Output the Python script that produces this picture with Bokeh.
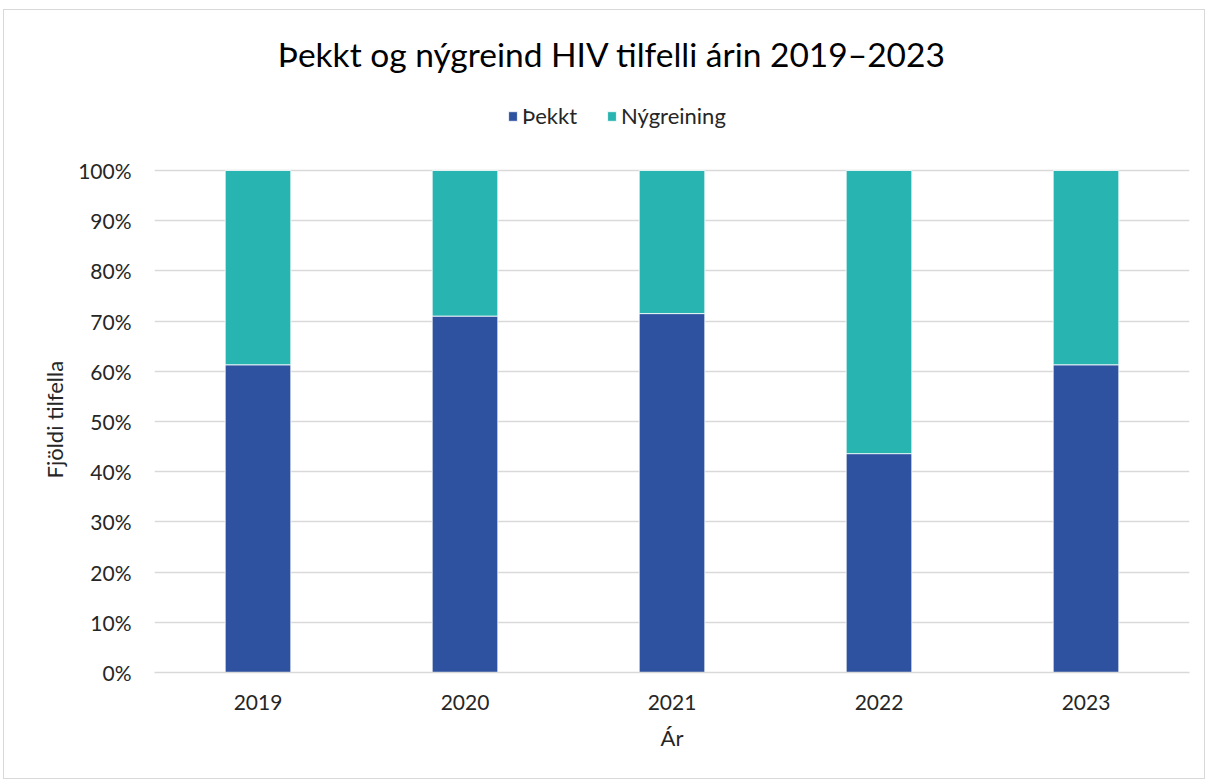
from bokeh.plotting import figure
from bokeh.models import Legend, LegendItem, PrintfTickFormatter, FixedTicker, Range1d, Label, Title
from bokeh.embed import file_html
from bokeh.resources import INLINE

years = ["2019", "2020", "2021", "2022", "2023"]
thekkt = [61.3, 71.0, 71.5, 43.6, 61.3]
nygreining = [38.7, 29.0, 28.5, 56.4, 38.7]
series = ["Þekkt", "Nýgreining"]
colors = ["#2F52A0", "#28B4B1"]
y_ticks = [0, 10, 20, 30, 40, 50, 60, 70, 80, 90, 100]
title_text = "Þekkt og nýgreind HIV tilfelli árin 2019–2023"
y_label = "Fjöldi tilfella"
x_label = "Ár"

FONT = "Lato"
TXT = "#262626"

# frame extends above 100% so the title and legend (drawn inside it) are not clipped
p = figure(x_range=years, y_range=Range1d(0, 130.88), width=1202, height=770,
           output_backend="svg", toolbar_location=None, title=None,
           min_border_left=150, min_border_right=17, min_border_top=5, min_border_bottom=108)

data = {"years": years, "Þekkt": thekkt, "Nýgreining": nygreining}
rs = p.vbar_stack(series, x="years", width=0.317, color=colors, source=data,
                  line_color="white", line_width=0.8)

title = Label(x=2.21, y=123.2, text=title_text, text_align="center", text_baseline="middle",
              text_font=FONT, text_font_size="33.5px", text_color="#000000")
p.add_layout(title)

legend = Legend(items=[LegendItem(label=s, renderers=[r]) for s, r in zip(series, rs)],
                orientation="horizontal", location=(353, 543),
                label_text_font=FONT, label_text_font_size="22px", label_text_color=TXT,
                glyph_width=11, glyph_height=12, label_standoff=4, spacing=29,
                border_line_color=None, background_fill_alpha=0, margin=0, padding=0)
p.add_layout(legend, "center")

p.yaxis.ticker = FixedTicker(ticks=y_ticks)
p.yaxis.formatter = PrintfTickFormatter(format="%d%%")
p.yaxis.axis_line_color = None
p.yaxis.major_tick_line_color = None
p.yaxis.minor_tick_line_color = None
p.yaxis.major_label_standoff = 17

# y-axis title centred on the 0–100% part of the axis
ytitle = Title(text=y_label, align="left", offset=194, standoff=16,
               text_font=FONT, text_font_size="22px", text_font_style="normal", text_color=TXT)
p.add_layout(ytitle, "left")

p.xaxis.axis_line_color = "#D9D9D9"
p.xaxis.axis_line_width = 1.5
p.xaxis.major_tick_line_color = None
p.xaxis.minor_tick_line_color = None
p.xaxis.major_label_standoff = 16
p.xaxis.axis_label = x_label
p.xaxis.axis_label_standoff = 11

for ax in (p.xaxis, p.yaxis):
    ax.major_label_text_font = FONT
    ax.major_label_text_font_size = "21px"
    ax.major_label_text_color = TXT
    ax.axis_label_text_font = FONT
    ax.axis_label_text_font_size = "22px"
    ax.axis_label_text_font_style = "normal"
    ax.axis_label_text_color = TXT

p.xgrid.grid_line_color = None
p.ygrid.grid_line_color = "#D9D9D9"
p.ygrid.grid_line_width = 1.5
p.outline_line_color = None
p.styles = {"border": "1px solid #D9D9D9", "box-sizing": "border-box",
            "margin-left": "3px", "margin-top": "9px"}

open("out.html", "w").write(file_html(p, INLINE))
